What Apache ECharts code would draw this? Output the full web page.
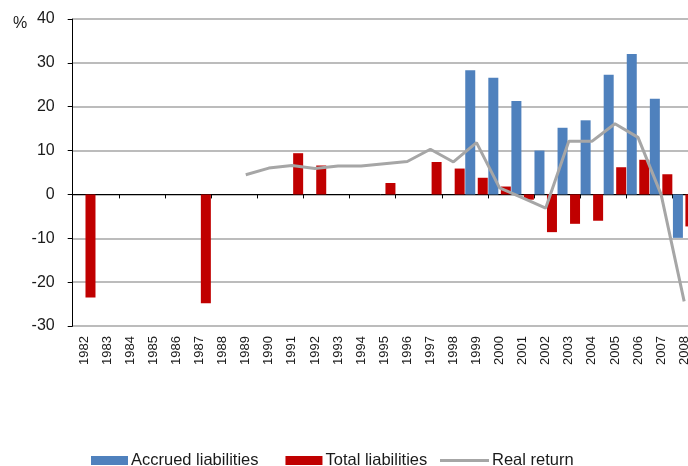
<!DOCTYPE html>
<html>
<head>
<meta charset="utf-8">
<script src="https://cdn.jsdelivr.net/npm/echarts@6/dist/echarts.min.js"></script>
<style>
  html, body { margin: 0; padding: 0; background: #fff; }
  #chart { width: 688px; height: 466px; }
</style>
</head>
<body>
<div id="chart"></div>
<script>
const years = ['1982', '1983', '1984', '1985', '1986', '1987', '1988', '1989', '1990', '1991',
  '1992', '1993', '1994', '1995', '1996', '1997', '1998', '1999', '2000', '2001',
  '2002', '2003', '2004', '2005', '2006', '2007', '2008']

// accrued liabilities only reported from 1999
const accrued = [null, null, null, null, null, null, null, null, null, null,
  null, null, null, null, null, null, null, 28.3, 26.6, 21.3,
  10.0, 15.2, 16.9, 27.3, 32.0, 21.8, -9.9]

const total = [-23.5, null, null, null, null, -24.8, null, null, null, 9.4,
  6.6, null, null, 2.6, null, 7.4, 5.9, 3.8, 1.8, -1.2,
  -8.6, -6.7, -6.0, 6.2, 7.9, 4.6, -7.3]

const realReturn = [null, null, null, null, null, null, null, 4.5, 6.0, 6.6,
  5.9, 6.5, 6.5, 7.0, 7.5, 10.3, 7.4, 11.8, 1.5, -0.8,
  -3.1, 12.1, 12.1, 16.1, 13.0, 0.0, -24.4]

const chart = echarts.init(document.getElementById('chart'))
const textColor = '#1a1a1a'
const font = 'Liberation Sans'

chart.setOption({
  animation: false,
  title: {
    text: '%',
    left: 8,
    top: 11,
    textStyle: { fontSize: 16, fontWeight: 'normal', color: textColor, fontFamily: font }
  },
  legend: [
    {
      left: 86,
      top: 447,
      icon: 'rect',
      itemWidth: 37,
      itemHeight: 9,
      itemGap: 27,
      textStyle: { fontSize: 16.5, color: textColor, fontFamily: font, padding: [0, 0, 0, -2] },
      data: ['Accrued liabilities', 'Total liabilities']
    },
    {
      left: 435,
      top: 447,
      itemWidth: 49,
      itemHeight: 3,
      textStyle: { fontSize: 16.5, color: textColor, fontFamily: font, padding: [0, 0, 0, -2] },
      data: [{ name: 'Real return', icon: 'rect' }]
    }
  ],
  grid: { left: 72.7, width: 623, top: 19, bottom: 140, outerBoundsMode: 'none' },
  xAxis: [
    {
      type: 'category',
      data: years,
      axisLine: { onZero: true, lineStyle: { color: '#000', width: 1 } },
      axisTick: { show: true, length: 4, lineStyle: { color: '#000' } },
      axisLabel: { show: false }
    },
    {
      type: 'category',
      data: years,
      position: 'bottom',
      axisLine: { show: false, onZero: false },
      axisTick: { show: false },
      axisLabel: {
        rotate: 90,
        margin: 10,
        fontSize: 13,
        color: textColor,
        fontFamily: font
      }
    }
  ],
  yAxis: {
    type: 'value',
    min: -30,
    max: 40,
    interval: 10,
    axisLine: { show: true, lineStyle: { color: '#000', width: 1 } },
    axisTick: { show: true, length: 5, lineStyle: { color: '#000' } },
    axisLabel: { margin: 18, fontSize: 16, color: textColor, fontFamily: font },
    splitLine: { lineStyle: { color: '#a6a6a6', width: 1.5 } }
  },
  series: [
    {
      name: 'Accrued liabilities',
      type: 'bar',
      data: accrued,
      barWidth: 10,
      barGap: '25%',
      itemStyle: { color: '#4f81bd' }
    },
    {
      name: 'Total liabilities',
      type: 'bar',
      data: total,
      barWidth: 10,
      barGap: '25%',
      itemStyle: { color: '#c00000' }
    },
    {
      name: 'Real return',
      type: 'line',
      data: realReturn,
      symbol: 'none',
      connectNulls: false,
      lineStyle: { color: '#a6a6a6', width: 3 },
      itemStyle: { color: '#a6a6a6' }
    }
  ]
})
</script>
</body>
</html>
